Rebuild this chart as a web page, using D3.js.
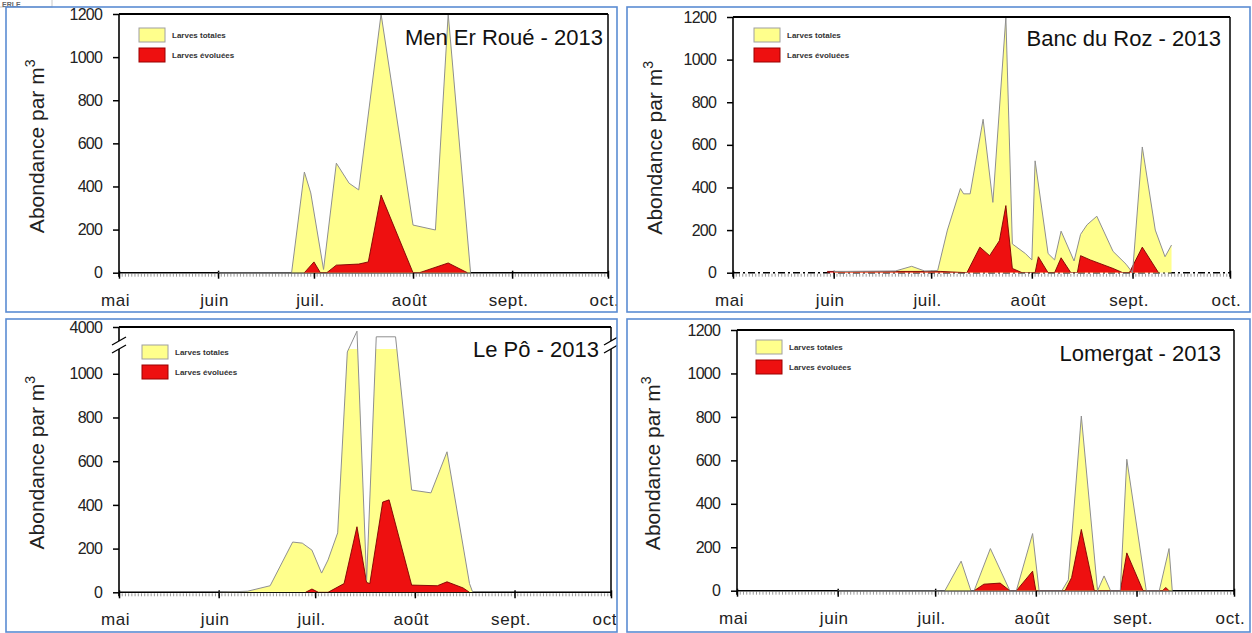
<!DOCTYPE html>
<html lang="fr">
<head>
<meta charset="UTF-8">
<title>Abondance larvaire - 2013</title>
<script src="https://cdn.jsdelivr.net/npm/d3@7"></script>
<style>
  body { margin: 0; background: #fff; }
  svg { display: block; font-family: "Liberation Sans", Arial, sans-serif; }
</style>
</head>
<body>
<svg id="chart" width="1252" height="633"></svg>
<script>
// --- axes ---
const monthStarts = ["2013-05-01", "2013-06-01", "2013-07-01", "2013-08-01", "2013-09-01", "2013-10-01"];
const monthLabels = ["mai", "juin", "juil.", "août", "sept.", "oct."];
const yTicks = [0, 200, 400, 600, 800, 1000, 1200];
const poTicks = [0, 200, 400, 600, 800, 1000, 4000];
const legendLabels = ["Larves totales", "Larves évoluées"];

// --- Men Er Roué ---
const menTotDates = ["2013-06-01", "2013-06-24", "2013-06-28", "2013-06-30", "2013-07-04", "2013-07-08", "2013-07-12",
  "2013-07-15", "2013-07-22", "2013-08-01", "2013-08-08", "2013-08-12", "2013-08-19"];
const menTot = [0, 0, 467, 370, 15, 508, 415, 384, 1200, 221, 198, 1200, 0];
const menEvoDates = ["2013-06-28", "2013-07-01", "2013-07-03", "2013-07-05", "2013-07-08", "2013-07-15", "2013-07-18",
  "2013-07-22", "2013-08-01", "2013-08-03", "2013-08-12", "2013-08-18"];
const menEvo = [0, 50, 0, 0, 35, 40, 50, 360, 0, 0, 45, 0];

// --- Banc du Roz ---
const rozTotDates = ["2013-06-01", "2013-06-20", "2013-06-25", "2013-06-29", "2013-07-03", "2013-07-06", "2013-07-10",
  "2013-07-11", "2013-07-13", "2013-07-17", "2013-07-20", "2013-07-24", "2013-07-26", "2013-07-30", "2013-08-01",
  "2013-08-02", "2013-08-06", "2013-08-08", "2013-08-10", "2013-08-14", "2013-08-16", "2013-08-18", "2013-08-21",
  "2013-08-26", "2013-08-30", "2013-09-01", "2013-09-04", "2013-09-08", "2013-09-11", "2013-09-13"];
const rozTot = [5, 8, 30, 8, 10, 200, 395, 370, 370, 720, 330, 1200, 135, 90, 60,
  525, 90, 60, 195, 55, 180, 225, 265, 100, 40, 0, 590, 200, 75, 130];
const rozEvoDates = ["2013-05-30", "2013-06-15", "2013-07-04", "2013-07-12", "2013-07-16", "2013-07-19", "2013-07-22",
  "2013-07-24", "2013-07-26", "2013-07-29", "2013-08-02", "2013-08-03", "2013-08-06", "2013-08-08", "2013-08-10",
  "2013-08-13", "2013-08-15", "2013-08-16", "2013-08-19", "2013-08-26", "2013-08-29", "2013-08-31", "2013-09-04",
  "2013-09-09"];
const rozEvo = [6, 6, 6, 0, 120, 80, 150, 315, 20, 0, 0, 75, 0, 0, 70, 0, 0, 80, 60, 20, 0, 0, 120, 0];

// --- Le Pô (axe coupé entre 1150 et 3000) ---
const poTotDates = ["2013-06-01", "2013-06-10", "2013-06-17", "2013-06-24", "2013-06-27", "2013-06-30", "2013-07-03",
  "2013-07-05", "2013-07-08", "2013-07-11", "2013-07-14", "2013-07-17", "2013-07-20", "2013-07-26", "2013-07-31",
  "2013-08-06", "2013-08-11", "2013-08-18", "2013-08-19"];
const poTot = [0, 5, 30, 230, 225, 193, 88, 148, 272, 1100, 3700, 55, 3300, 3300, 468, 455, 643, 40, 0];
const poEvoDates = ["2013-06-28", "2013-06-30", "2013-07-02", "2013-07-05", "2013-07-10", "2013-07-14", "2013-07-17",
  "2013-07-18", "2013-07-22", "2013-07-24", "2013-07-31", "2013-08-08", "2013-08-11", "2013-08-16", "2013-08-18"];
const poEvo = [0, 15, 0, 0, 40, 300, 45, 40, 413, 423, 33, 30, 48, 20, 0];

// --- Lomergat ---
const lomTotDates = ["2013-06-01", "2013-07-04", "2013-07-09", "2013-07-12", "2013-07-13", "2013-07-18", "2013-07-24",
  "2013-07-26", "2013-07-31", "2013-08-02", "2013-08-09", "2013-08-11", "2013-08-15", "2013-08-20", "2013-08-22",
  "2013-08-24", "2013-08-27", "2013-08-29", "2013-09-04", "2013-09-08", "2013-09-11", "2013-09-12"];
const lomTot = [0, 0, 136, 0, 0, 194, 0, 0, 263, 0, 0, 50, 804, 0, 68, 0, 0, 605, 0, 0, 194, 0];
const lomEvoDates = ["2013-07-13", "2013-07-16", "2013-07-21", "2013-07-24", "2013-07-26", "2013-07-31", "2013-08-01",
  "2013-08-10", "2013-08-12", "2013-08-15", "2013-08-19", "2013-08-27", "2013-08-29", "2013-09-03", "2013-09-09",
  "2013-09-10", "2013-09-11"];
const lomEvo = [0, 30, 35, 0, 0, 90, 0, 0, 60, 282, 0, 0, 174, 0, 0, 15, 0];

const parse = d3.timeParse("%Y-%m-%d");
const svg = d3.select("#chart");
const t0 = parse(monthStarts[0]), t1 = parse(monthStarts[monthStarts.length - 1]);

const rows = (dates, vals) => dates.map((s, i) => ({ date: parse(s), v: vals[i] }));

const panels = [
  { id: "men", box: [6, 7, 611, 305], left: 119, right: 608, top: 14, bottom: 272.7,
    y: d3.scaleLinear().domain([0, 1200]).range([272.7, 14]), ticks: yTicks,
    title: "Men Er Roué - 2013", titleX: 603, titleY: 45, legend: [139, 28], ylabX: 44,
    tot: rows(menTotDates, menTot), evo: rows(menEvoDates, menEvo) },
  { id: "roz", box: [627, 7, 623, 305], left: 733, right: 1230, top: 17, bottom: 272.7,
    y: d3.scaleLinear().domain([0, 1200]).range([272.7, 17]), ticks: yTicks, dashedBase: true,
    title: "Banc du Roz - 2013", titleX: 1221, titleY: 46, legend: [754, 28], ylabX: 662,
    tot: rows(rozTotDates, rozTot), evo: rows(rozEvoDates, rozEvo) },
  { id: "po", box: [6, 319, 611, 313], left: 119, right: 611, top: 327, bottom: 592.3,
    y: d3.scaleLinear().domain([0, 1150, 3000, 4000]).range([592.3, 341, 341, 327]), ticks: poTicks,
    broken: true, fillTop: 349,
    title: "Le Pô - 2013", titleX: 599, titleY: 357, legend: [142, 345], ylabX: 44,
    tot: rows(poTotDates, poTot), evo: rows(poEvoDates, poEvo) },
  { id: "lom", box: [627, 319, 623, 313], left: 737, right: 1234, top: 330, bottom: 590.7,
    y: d3.scaleLinear().domain([0, 1200]).range([590.7, 330]), ticks: yTicks,
    title: "Lomergat - 2013", titleX: 1221, titleY: 361, legend: [756, 340], ylabX: 660,
    tot: rows(lomTotDates, lomTot), evo: rows(lomEvoDates, lomEvo) }
];

// petit reste d'en-tête en haut à gauche
svg.append("rect").attr("x", -1).attr("y", -1).attr("width", 53).attr("height", 8)
  .attr("fill", "none").attr("stroke", "#c8c8c8");
svg.append("text").attr("x", 2).attr("y", 6.5).attr("font-size", 7).attr("font-weight", "bold")
  .attr("fill", "#666").text("ERLE");

panels.forEach(drawPanel);

function drawPanel(p) {
  const defs = svg.append("defs");
  defs.append("clipPath").attr("id", "box-" + p.id).append("rect")
    .attr("x", p.box[0]).attr("y", p.box[1]).attr("width", p.box[2]).attr("height", p.box[3]);
  defs.append("clipPath").attr("id", "plot-" + p.id).append("rect")
    .attr("x", p.left).attr("y", p.top).attr("width", p.right - p.left).attr("height", p.bottom - p.top);
  const fillTop = p.fillTop || p.top;
  defs.append("clipPath").attr("id", "fill-" + p.id).append("rect")
    .attr("x", p.left).attr("y", fillTop).attr("width", p.right - p.left).attr("height", p.bottom - fillTop);

  const g = svg.append("g").attr("clip-path", `url(#box-${p.id})`);
  const x = d3.scaleTime().domain([t0, t1]).range([p.left, p.right]);
  const y = p.y;

  // petites graduations journalières
  g.append("g").selectAll("line")
    .data(d3.timeDay.range(t0, t1))
    .join("line")
    .attr("x1", d => x(d)).attr("x2", d => x(d))
    .attr("y1", p.bottom + 1).attr("y2", p.bottom + 4)
    .attr("stroke", "#9a9a9a").attr("stroke-width", 1);

  // axe des mois
  const xAxis = g.append("g")
    .attr("transform", `translate(0,${p.bottom})`)
    .call(d3.axisBottom(x).tickValues(monthStarts.map(parse)).tickSize(6)
      .tickFormat((d, i) => monthLabels[i]));
  xAxis.select(".domain").remove();
  xAxis.selectAll(".tick line").attr("y1", -2).attr("stroke-width", 1.5);
  xAxis.selectAll("text")
    .attr("y", 33).attr("dy", 0).attr("dx", -4)
    .attr("font-size", 17).attr("letter-spacing", 0.6)
    .attr("font-family", "'Liberation Sans', Arial, sans-serif").attr("fill", "#222");

  // axe des abondances
  const yAxis = g.append("g")
    .attr("transform", `translate(${p.left},0)`)
    .call(d3.axisLeft(y).tickValues(p.ticks).tickSize(6).tickPadding(11).tickFormat(d3.format("d")));
  yAxis.select(".domain").remove();
  yAxis.selectAll(".tick line").attr("stroke-width", 1.5);
  yAxis.selectAll("text")
    .attr("font-size", 16).attr("letter-spacing", -0.8)
    .attr("font-family", "'Liberation Sans', Arial, sans-serif").attr("fill", "#222");

  // ligne de base
  g.append("line")
    .attr("x1", p.left).attr("x2", p.right).attr("y1", p.bottom).attr("y2", p.bottom)
    .attr("stroke", "#000").attr("stroke-width", 1.6)
    .attr("stroke-dasharray", p.dashedBase ? "7,3,2,3" : null);

  // séries
  const area = d3.area().x(d => x(d.date)).y0(y(0)).y1(d => y(d.v));
  const line = d3.line().x(d => x(d.date)).y(d => y(d.v));
  const plot = g.append("g").attr("clip-path", `url(#plot-${p.id})`);
  const fills = plot.append("g").attr("clip-path", `url(#fill-${p.id})`);

  fills.append("path").datum(p.tot).attr("d", area).attr("fill", "#ffff8c");
  plot.append("path").datum(p.tot).attr("d", line)
    .attr("fill", "none").attr("stroke", "#8f8f8f").attr("stroke-width", 1);
  fills.append("path").datum(p.evo).attr("d", area).attr("fill", "#ee1010");
  fills.append("path").datum(p.evo).attr("d", line)
    .attr("fill", "none").attr("stroke", "#7a0000").attr("stroke-width", 0.9);

  // cadre
  g.append("line").attr("x1", p.left).attr("x2", p.right).attr("y1", p.top).attr("y2", p.top)
    .attr("stroke", "#000").attr("stroke-width", 2);
  g.append("line").attr("x1", p.right).attr("x2", p.right).attr("y1", p.top).attr("y2", p.bottom + 4)
    .attr("stroke", "#000").attr("stroke-width", 1.5);
  g.append("line").attr("x1", p.left).attr("x2", p.left).attr("y1", p.top).attr("y2", p.bottom + 4)
    .attr("stroke", "#000").attr("stroke-width", 1.6);

  // coupure d'axe
  if (p.broken) {
    [p.left, p.right].forEach(ax => {
      g.append("rect").attr("x", ax - 3).attr("y", 341).attr("width", 6).attr("height", 8).attr("fill", "#fff");
      [341, 349].forEach(yb => {
        g.append("line").attr("x1", ax - 7).attr("y1", yb + 4).attr("x2", ax + 7).attr("y2", yb - 4)
          .attr("stroke", "#000").attr("stroke-width", 1.3);
      });
    });
  }

  // titre
  g.append("text").attr("x", p.titleX).attr("y", p.titleY).attr("text-anchor", "end")
    .attr("font-size", 22).attr("fill", "#111").text(p.title);

  // titre de l'axe y
  const cy = (p.top + p.bottom) / 2 + 3;
  const yl = g.append("text").attr("text-anchor", "middle").attr("font-size", 21).attr("fill", "#222")
    .attr("transform", `translate(${p.ylabX},${cy}) rotate(-90)`);
  yl.append("tspan").text("Abondance par m");
  yl.append("tspan").attr("dy", -9).attr("font-size", 14).text("3");

  // légende
  const [lx, ly] = p.legend;
  const colors = [["#ffff8c", "#a0a0a0"], ["#ee1010", "#9a0000"]];
  legendLabels.forEach((lab, i) => {
    g.append("rect").attr("x", lx).attr("y", ly + i * 20).attr("width", 26).attr("height", 14)
      .attr("fill", colors[i][0]).attr("stroke", colors[i][1]).attr("stroke-width", 1);
    g.append("text").attr("x", lx + 33).attr("y", ly + i * 20 + 10)
      .attr("font-size", 8).attr("font-weight", "bold").attr("fill", "#333").text(lab);
  });

  // bordure bleue
  svg.append("rect").attr("x", p.box[0]).attr("y", p.box[1]).attr("width", p.box[2]).attr("height", p.box[3])
    .attr("fill", "none").attr("stroke", "#5b8cd3").attr("stroke-width", 1.6);
}
</script>
</body>
</html>
